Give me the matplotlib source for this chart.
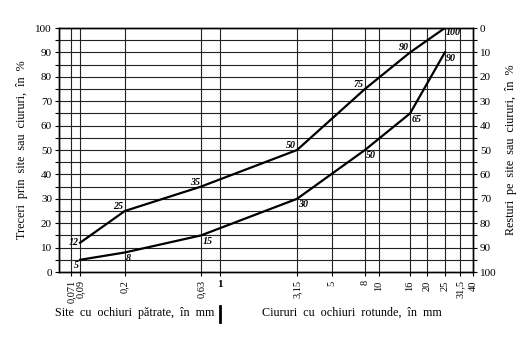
import numpy as np
import matplotlib
matplotlib.use("Agg")
import matplotlib.pyplot as plt

# sieve sizes (mm) and their tick labels
sieves = [0.071, 0.09, 0.2, 0.63, 1, 3.15, 5, 8, 10, 16, 20, 25, 31.5, 40]
sieve_labels = ["0,071", "0,09", "0,2", "0,63", "1", "3,15", "5", "8", "10",
                "16", "20", "25", "31,5", "40"]

# grading curves: sieve size -> passing %
upper_x = [0.09, 0.2, 0.63, 3.15, 8, 16, 25]
upper_y = [12, 25, 35, 50, 75, 90, 100]
lower_x = [0.09, 0.2, 0.63, 3.15, 8, 16, 25]
lower_y = [5, 8, 15, 30, 50, 65, 90]

# the chart's hand-made sieve scale (square sieves left of 1 mm, round ones right)
scale_sizes = [0.06] + sieves
scale_frac = [0, 0.029, 0.051, 0.159, 0.343, 0.389, 0.575, 0.659, 0.739,
              0.773, 0.848, 0.889, 0.932, 0.969, 1.0]
log_sizes = np.log10(scale_sizes)


def fwd(x):
    x = np.clip(np.asarray(x, dtype=float), 1e-6, None)
    return np.interp(np.log10(x), log_sizes, scale_frac)


def inv(y):
    return 10 ** np.interp(np.asarray(y, dtype=float), scale_frac, log_sizes)


plt.rcParams['font.family'] = ['Liberation Serif', 'DejaVu Serif']
plt.rcParams['font.size'] = 8

fig = plt.figure(figsize=(5.29, 3.54), dpi=100)
ax = fig.add_axes([59 / 529, 1 - 272 / 354, 414 / 529, 244 / 354])
ax.set_xscale('function', functions=(fwd, inv))
ax.set_xlim(0.06, 40)
ax.set_ylim(0, 100)

# grid
for s in sieves[:-1]:
    ax.axvline(s, color='#222222', lw=0.8, zorder=1)
for v in range(5, 100, 5):
    ax.axhline(v, color='#222222', lw=0.8, zorder=1)

ax.plot(upper_x, upper_y, color='black', lw=1.6, zorder=3)
ax.plot(lower_x, lower_y, color='black', lw=1.6, zorder=3)

lab_font = dict(fontsize=7.2, fontstyle='italic', fontweight='bold', zorder=4)
upper_align = [('right', 'center'), ('right', 'bottom'), ('right', 'bottom'),
               ('right', 'bottom'), ('right', 'bottom'), ('right', 'bottom'),
               ('left', 'top')]
lower_align = [('right', 'top'), ('left', 'top'), ('left', 'top'), ('left', 'top'),
               ('left', 'top'), ('left', 'top'), ('left', 'top')]
for x, y, (ha, va) in zip(upper_x, upper_y, upper_align):
    dx = -1 if ha == 'right' else 1
    ax.annotate(str(y), (x, y), xytext=(dx, 0), textcoords='offset points',
                ha=ha, va=va, **lab_font)
for x, y, (ha, va) in zip(lower_x, lower_y, lower_align):
    dx = -1 if ha == 'right' else 1
    ax.annotate(str(y), (x, y), xytext=(dx, -1), textcoords='offset points',
                ha=ha, va=va, **lab_font)

ax.set_xticks(sieves)
ax.set_xticklabels(sieve_labels, rotation=90, fontsize=7.5)
ax.xaxis.set_minor_locator(matplotlib.ticker.NullLocator())
for t in ax.get_xticklabels():
    if t.get_text() == "1":
        t.set_rotation(0)
        t.set_fontweight('bold')
        t.set_fontsize(8)
ax.tick_params(axis='x', length=3, width=0.8, pad=3)

ax.set_yticks(range(0, 101, 10))
ax.set_yticks(range(5, 100, 10), minor=True)
ax.tick_params(axis='y', which='both', length=3, width=0.8, pad=2, labelsize=8)
ax.set_ylabel("Treceri  prin  site  sau  ciururi,  în  %", fontsize=8.7, labelpad=5)

ax2 = ax.twinx()
ax2.set_ylim(100, 0)
ax2.set_yticks(range(0, 101, 10))
ax2.set_yticks(range(5, 100, 10), minor=True)
ax2.tick_params(axis='y', which='both', length=3, width=0.8, pad=2, labelsize=8)
ax2.set_ylabel("Resturi  pe  site  sau  ciururi,  în  %", fontsize=8.7, labelpad=6)

for a in (ax, ax2):
    for sp in a.spines.values():
        sp.set_linewidth(1)

fig.text(135 / 529, 1 - 313 / 354, "Site  cu  ochiuri  pătrate,  în  mm",
         ha='center', va='center', fontsize=8.7)
fig.text(352 / 529, 1 - 313 / 354, "Ciururi  cu  ochiuri  rotunde,  în  mm",
         ha='center', va='center', fontsize=8.7)
fig.add_artist(matplotlib.lines.Line2D([220 / 529, 220 / 529],
                                       [1 - 306 / 354, 1 - 322 / 354],
                                       color='black', lw=2))

fig.savefig('out.png', dpi=100)
